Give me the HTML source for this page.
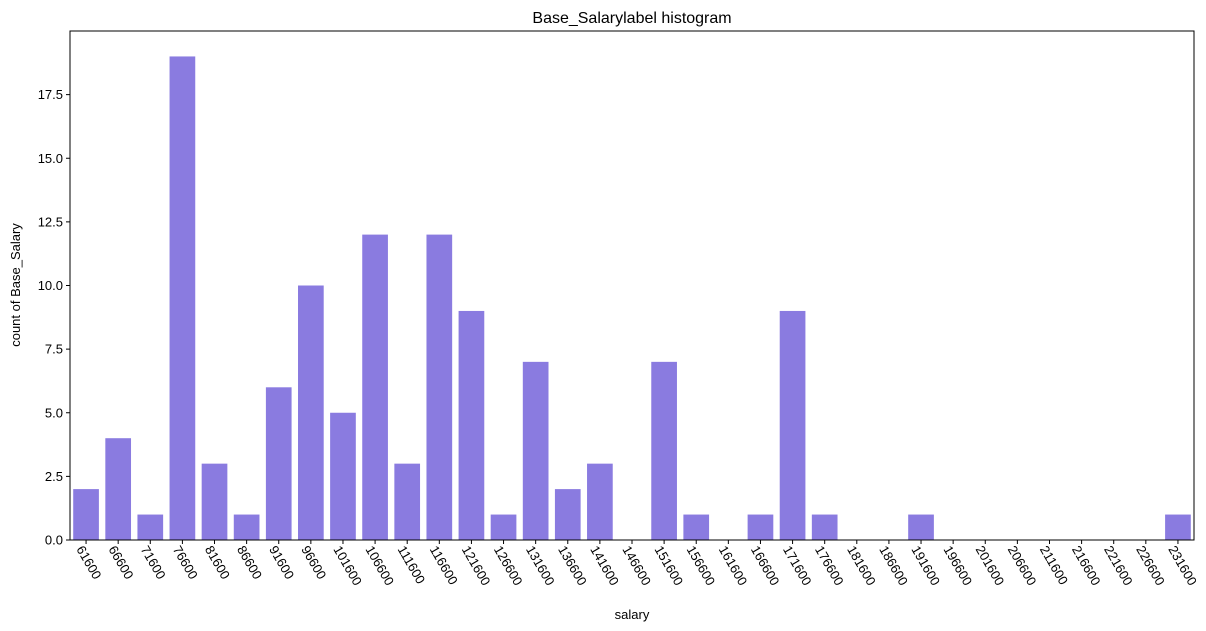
<!DOCTYPE html>
<html><head><meta charset="utf-8"><style>
body{margin:0;background:#fff;}
svg{display:block;font-family:"Liberation Sans","DejaVu Sans",sans-serif;}
</style></head><body>
<svg id="chart" width="1206" height="631">
<text x="632" y="23" text-anchor="middle" font-size="16" fill="#000">Base_Salarylabel histogram</text>
<g id="bars"></g>
<g id="xt"></g>
<g id="yt"></g>
<rect x="70" y="31" width="1124" height="509" fill="none" stroke="#000" stroke-width="1"/>
<text x="632" y="619" text-anchor="middle" font-size="13">salary</text>
<text transform="translate(20,285) rotate(-90)" text-anchor="middle" font-size="13">count of Base_Salary</text>
</svg>
<script>
const categories=[61600,66600,71600,76600,81600,86600,91600,96600,101600,106600,111600,116600,121600,126600,131600,136600,141600,146600,151600,156600,161600,166600,171600,176600,181600,186600,191600,196600,201600,206600,211600,216600,221600,226600,231600];
const counts=[2,4,1,19,3,1,6,10,5,12,3,12,9,1,7,2,3,0,7,1,0,1,9,1,0,0,1,0,0,0,0,0,0,0,1];
const yTicks=[0,2.5,5,7.5,10,12.5,15,17.5];
const NS="http://www.w3.org/2000/svg";
const L=70,R=1194,T=31,B=540,yMax=20.0;
const slot=(R-L)/categories.length;
const xPos=i=>L+slot*(i+0.5);
const yPos=v=>B-(v/yMax)*(B-T);
const bars=document.getElementById('bars'),xt=document.getElementById('xt'),yt=document.getElementById('yt');
categories.forEach((c,i)=>{
 const r=document.createElementNS(NS,'rect');
 
 
 const w=slot*0.8;
 r.setAttribute('x',xPos(i)-w/2);r.setAttribute('width',w);
 r.setAttribute('y',yPos(counts[i]));r.setAttribute('height',B-yPos(counts[i]));
 r.setAttribute('fill','#8a7be0');bars.appendChild(r);
 const tk=document.createElementNS(NS,'line');
 
 
 tk.setAttribute('x1',xPos(i));tk.setAttribute('x2',xPos(i));tk.setAttribute('y1',B);tk.setAttribute('y2',B+4);tk.setAttribute('stroke','#000');xt.appendChild(tk);
 const t=document.createElementNS(NS,'text');
 
 
 t.setAttribute('font-size','13');
 t.setAttribute('transform','translate('+(xPos(i)-10)+','+(B+9)+') rotate(60)');
 t.textContent=c;xt.appendChild(t);
});
yTicks.forEach(v=>{
 const tk=document.createElementNS(NS,'line');
 
 
 tk.setAttribute('x1',L-4);tk.setAttribute('x2',L);tk.setAttribute('y1',yPos(v));tk.setAttribute('y2',yPos(v));tk.setAttribute('stroke','#000');yt.appendChild(tk);
 const t=document.createElementNS(NS,'text');
 
 
 t.setAttribute('font-size','13');t.setAttribute('text-anchor','end');
 t.setAttribute('x',L-7);t.setAttribute('y',yPos(v)+4.5);
 t.textContent=v.toFixed(1);yt.appendChild(t);
});
</script>
</body></html>
